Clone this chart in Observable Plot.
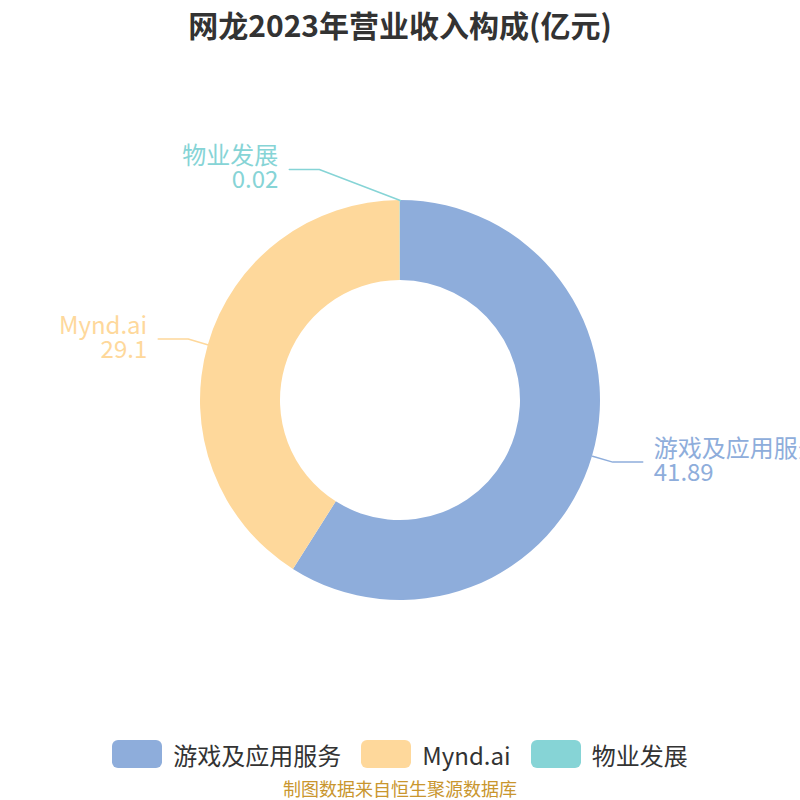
<!DOCTYPE html>
<html>
<head>
<meta charset="utf-8">
<script src="https://cdn.jsdelivr.net/npm/d3@7"></script>
<script src="https://cdn.jsdelivr.net/npm/@observablehq/plot@0.6"></script>
<style>
  html, body { margin: 0; padding: 0; background: #fff; }
  body { width: 800px; height: 800px; overflow: hidden; font-family: "Noto Sans CJK SC", "Noto Sans", sans-serif; }
  #title { height: 50px; line-height: 48px; text-align: center; font-size: 30px; font-weight: bold; color: #333; }
  #chart { height: 680px; }
  #legend { display: flex; justify-content: center; align-items: center; height: 48px; gap: 20px; }
  .item { display: flex; align-items: center; gap: 11px; font-size: 24px; color: #333; }
  .sw { width: 50px; height: 28px; border-radius: 6px; }
  #caption { text-align: center; font-size: 18px; color: #c9962e; line-height: 20px; }
</style>
</head>
<body>
<div id="title">网龙2023年营业收入构成(亿元)</div>
<div id="chart"></div>
<div id="legend"></div>
<div id="caption">制图数据来自恒生聚源数据库</div>
<script>
const categories = ["游戏及应用服务", "Mynd.ai", "物业发展"];
const values = [41.89, 29.1, 0.02];
const valueLabels = ["41.89", "29.1", "0.02"];
const colors = ["#8eaddb", "#fed89b", "#86d4d6"];

const outerR = 200, innerR = 120;
const rows = categories.map((name, i) => ({name, value: values[i], label: valueLabels[i]}));
const arcs = d3.pie().sort(null).value(d => d.value)(rows);

// label layout (echarts-like leader lines)
const labelOffsets = {"物业发展": [-81, -10]};
const lines = [];
const labels = [];
arcs.forEach(a => {
  const mid = (a.startAngle + a.endAngle) / 2;
  const right = Math.sin(mid) > 0.001;
  const p0 = [outerR * Math.sin(mid), -outerR * Math.cos(mid)];
  let p1 = [(outerR + 21) * Math.sin(mid), -(outerR + 21) * Math.cos(mid)];
  const off = labelOffsets[a.data.name];
  if (off) p1 = [p1[0] + off[0], p1[1] + off[1]];
  const p2 = [p1[0] + (right ? 30 : -30), p1[1]];
  [p0, p1, p2].forEach(p => lines.push({name: a.data.name, x: p[0], y: p[1]}));
  labels.push({name: a.data.name, label: a.data.label, x: p2[0] + (right ? 11 : -11), y: p2[1], anchor: right ? "start" : "end"});
});

function donut(index, scales, channels, dims) {
  const cx = scales.x(0), cy = scales.y(0);
  const k = scales.x(1) - scales.x(0);
  const arc = d3.arc().innerRadius(innerR * k).outerRadius(outerR * k);
  const g = d3.create("svg:g").attr("transform", `translate(${cx},${cy})`);
  g.selectAll("path").data(arcs).join("path")
    .attr("d", arc)
    .attr("fill", d => scales.color(d.data.name));
  return g.node();
}

const textFont = {fontSize: 24, fontFamily: "'Noto Sans CJK SC', 'Noto Sans', sans-serif"};
const plot = Plot.plot({
  width: 800, height: 680, margin: 0,
  x: {domain: [-400, 400], range: [0, 800], axis: null},
  y: {domain: [-350, 330], range: [0, 680], axis: null},
  color: {domain: categories, range: colors},
  style: {background: "transparent", overflow: "hidden"},
  marks: [
    donut,
    Plot.line(lines, {x: "x", y: "y", z: "name", stroke: "name", strokeWidth: 1.5}),
    Plot.text(labels.filter(d => d.anchor === "start"), {x: "x", y: "y", text: "name", fill: "name", textAnchor: "start", dy: -13, ...textFont}),
    Plot.text(labels.filter(d => d.anchor === "start"), {x: "x", y: "y", text: "label", fill: "name", textAnchor: "start", dy: 11, ...textFont}),
    Plot.text(labels.filter(d => d.anchor === "end"), {x: "x", y: "y", text: "name", fill: "name", textAnchor: "end", dy: -13, ...textFont}),
    Plot.text(labels.filter(d => d.anchor === "end"), {x: "x", y: "y", text: "label", fill: "name", textAnchor: "end", dy: 11, ...textFont})
  ]
});
document.getElementById("chart").appendChild(plot);

const legend = d3.select("#legend");
categories.forEach((c, i) => {
  const it = legend.append("div").attr("class", "item");
  it.append("div").attr("class", "sw").style("background", colors[i]);
  it.append("span").text(c);
});
</script>
</body>
</html>
